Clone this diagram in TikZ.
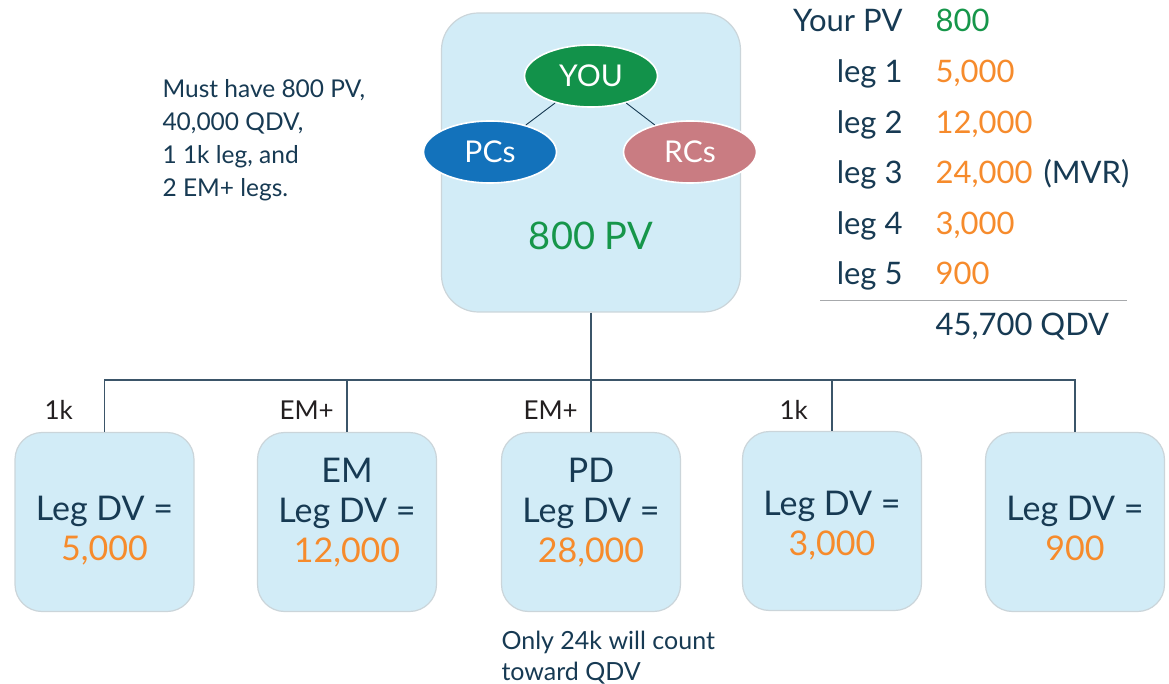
\documentclass[tikz,border=0pt]{standalone}
\usepackage{fontspec}
\setmainfont{Lato}
\usepackage{tikz}
\usetikzlibrary{shapes.geometric, positioning, calc}
\usepackage{xcolor}
\definecolor{navy}{HTML}{173A53}
\definecolor{skyfill}{HTML}{D2ECF7}
\definecolor{skyline}{HTML}{CBD5DA}
\definecolor{yougreen}{HTML}{12924A}
\definecolor{pcblue}{HTML}{1372BB}
\definecolor{rcrose}{HTML}{C97C82}
\definecolor{dvorange}{HTML}{F68B2C}
\definecolor{pvgreen}{HTML}{16964A}
\definecolor{wire}{HTML}{3B5569}
\definecolor{rulegray}{HTML}{A7A9AC}
\definecolor{labelink}{HTML}{231F20}

\tikzset{
  topbox/.style={draw=skyline, fill=skyfill, line width=1.2pt, rounded corners=37pt, minimum width=299pt, minimum height=299pt},
  legbox/.style={draw=skyline, fill=skyfill, line width=1.2pt, rounded corners=27pt, minimum width=179pt, minimum height=179pt},
  bubble/.style={ellipse, draw=white, line width=1.6pt, minimum width=133pt, minimum height=62pt, inner sep=0pt, text=white, font=\fontsize{30}{32}\selectfont},
  legtext/.style={anchor=base, align=center, text=navy, font=\fontsize{34}{40}\selectfont},
  droplabel/.style={anchor=base west, text=labelink, font=\fontsize{26}{30}\selectfont},
  tablabel/.style={anchor=base east, text=navy, font=\fontsize{31}{36}\selectfont},
  tabval/.style={anchor=base west, text=dvorange, font=\fontsize{31}{36}\selectfont},
  notetext/.style={anchor=base west, align=left, text=navy, font=\fontsize{24.5}{33}\selectfont},
  wirestyle/.style={draw=wire, line width=1.3pt},
  thinlink/.style={draw=navy, line width=0.9pt}
}

\begin{document}
\begin{tikzpicture}[x=1pt, y=-1pt]
\useasboundingbox (0,0) rectangle (1169,684);

% your own box
\node[topbox] (me) at (591,162.5) {};
\node[bubble, fill=yougreen] (you) at (591,76) {YOU};
\node[bubble, fill=pcblue] (pcs) at (490,152) {PCs};
\node[bubble, fill=rcrose] (rcs) at (690,152) {RCs};
\draw[thinlink] (you) -- (pcs);
\draw[thinlink] (you) -- (rcs);
\node[text=pvgreen, font=\fontsize{38}{42}\selectfont] (pv) at (591,236) {800 PV};

% requirements
\node[notetext] (req) at (159,197) {Must have 800 PV,\\40,000 QDV,\\1 1k leg, and\\2 EM+ legs.};

% qualification table
\node[tablabel] (yourpv) at (906,32) {Your PV};
\node[tabval, text=pvgreen] (pvval) at (932,32) {800};
\foreach \v [count=\i] in {{5,000},{12,000},{24,000},{3,000},{900}} {
  \node[tablabel] (lab\i) at (906,{83+50.5*(\i-1)}) {leg \i};
  \node[tabval] (val\i) at (932,{83+50.5*(\i-1)}) {\v};
}
\node[tabval, text=navy, xshift=4pt] (mvr) at (val3.base east) {(MVR)};
\draw[rulegray, line width=1pt] (820,301) -- (1127,301);
\node[tabval, text=navy] (total) at (932,335) {45,700 QDV};

% legs
\node[legbox] (leg1) at (104.5,522) {};
\node[legbox] (leg2) at (347,522) {};
\node[legbox] (leg3) at (591,522) {};
\node[legbox] (leg4) at (832,521) {};
\node[legbox] (leg5) at (1075,522) {};

\coordinate (bus) at (591,380);
\draw[wirestyle] (me.south) -- (bus);
\foreach \i in {1,...,5}
  \draw[wirestyle] (bus) -| (leg\i.north);

\node[droplabel] (rank1) at (41,419) {1k};
\node[droplabel] (rank2) at (276,419) {EM+};
\node[droplabel] (rank3) at (520,419) {EM+};
\node[droplabel] (rank4) at (776,419) {1k};

\node[legtext] (dv1) at (104.5,560) {Leg DV =\\\textcolor{dvorange}{5,000}};
\node[legtext] (dv2) at (347,562) {EM\\Leg DV =\\\textcolor{dvorange}{12,000}};
\node[legtext] (dv3) at (591,562) {PD\\Leg DV =\\\textcolor{dvorange}{28,000}};
\node[legtext] (dv4) at (832,555) {Leg DV =\\\textcolor{dvorange}{3,000}};
\node[legtext] (dv5) at (1075,560) {Leg DV =\\\textcolor{dvorange}{900}};

\node[notetext, font=\fontsize{25}{31}\selectfont] (only) at (498,680) {Only 24k will count\\toward QDV};
\end{tikzpicture}
\end{document}
